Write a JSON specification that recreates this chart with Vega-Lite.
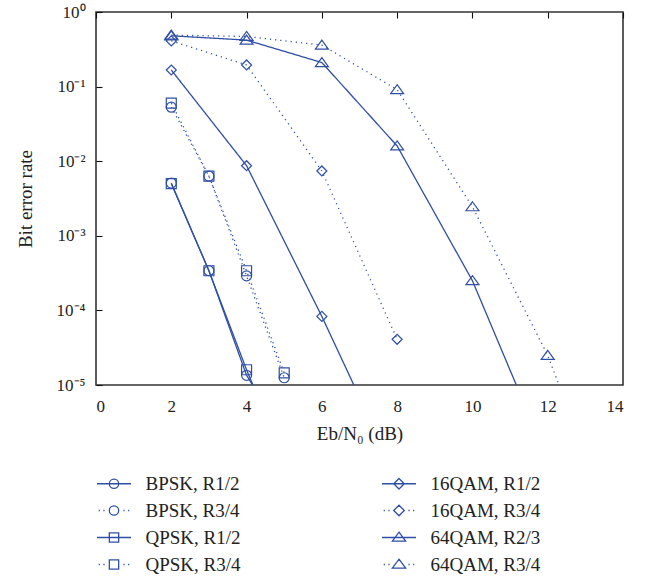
{
  "$schema": "https://vega.github.io/schema/vega-lite/v6.json",
  "width": 527,
  "height": 373,
  "autosize": {"type": "none"},
  "padding": {"left": 96, "top": 12, "right": 31, "bottom": 194},
  "background": "white",
  "config": {
    "view": {"stroke": "#333333", "strokeWidth": 1.6},
    "font": "Liberation Serif",
    "axis": {
      "domain": false,
      "ticks": false,
      "tickSize": 0,
      "grid": true,
      "gridColor": "#111111",
      "gridOpacity": 1,
      "gridWidth": 1.1,
      "gridDash": [6, 2000],
      "labelColor": "#222222",
      "titleColor": "#222222",
      "labelFont": "Liberation Serif",
      "titleFont": "Liberation Serif",
      "labelFontSize": 17,
      "titleFontSize": 19,
      "titleFontWeight": "normal"
    },
    "legend": {
      "orient": "none",
      "legendX": 8.5,
      "legendY": 462,
      "columns": 2,
      "padding": 0,
      "symbolSize": 289,
      "symbolStrokeWidth": 1.3,
      "labelFont": "Liberation Serif",
      "labelFontSize": 19,
      "labelColor": "#222222",
      "labelOffset": 22,
      "labelLimit": 300,
      "rowPadding": 7,
      "columnPadding": 137
    }
  },
  "data": {
    "values": [
      {"series": "BPSK, R1/2", "ebn0": 2, "ber": 0.0051},
      {"series": "BPSK, R1/2", "ebn0": 3, "ber": 0.00034},
      {"series": "BPSK, R1/2", "ebn0": 4, "ber": 0.0000135},
      {"series": "BPSK, R1/2", "ebn0": 5, "ber": 0.000002},
      {"series": "BPSK, R3/4", "ebn0": 2, "ber": 0.053},
      {"series": "BPSK, R3/4", "ebn0": 3, "ber": 0.0063},
      {"series": "BPSK, R3/4", "ebn0": 4, "ber": 0.00029},
      {"series": "BPSK, R3/4", "ebn0": 5, "ber": 0.0000125},
      {"series": "QPSK, R1/2", "ebn0": 2, "ber": 0.005},
      {"series": "QPSK, R1/2", "ebn0": 3, "ber": 0.00034},
      {"series": "QPSK, R1/2", "ebn0": 4, "ber": 0.000016},
      {"series": "QPSK, R1/2", "ebn0": 5, "ber": 0.000001},
      {"series": "QPSK, R3/4", "ebn0": 2, "ber": 0.06},
      {"series": "QPSK, R3/4", "ebn0": 3, "ber": 0.0063},
      {"series": "QPSK, R3/4", "ebn0": 4, "ber": 0.00034},
      {"series": "QPSK, R3/4", "ebn0": 5, "ber": 0.0000145},
      {"series": "16QAM, R1/2", "ebn0": 2, "ber": 0.167},
      {"series": "16QAM, R1/2", "ebn0": 4, "ber": 0.0087},
      {"series": "16QAM, R1/2", "ebn0": 6, "ber": 0.000083},
      {"series": "16QAM, R1/2", "ebn0": 8, "ber": 0.00000057},
      {"series": "16QAM, R3/4", "ebn0": 2, "ber": 0.41},
      {"series": "16QAM, R3/4", "ebn0": 4, "ber": 0.195},
      {"series": "16QAM, R3/4", "ebn0": 6, "ber": 0.0074},
      {"series": "16QAM, R3/4", "ebn0": 8, "ber": 0.000041},
      {"series": "64QAM, R2/3", "ebn0": 2, "ber": 0.48},
      {"series": "64QAM, R2/3", "ebn0": 4, "ber": 0.42},
      {"series": "64QAM, R2/3", "ebn0": 6, "ber": 0.21},
      {"series": "64QAM, R2/3", "ebn0": 8, "ber": 0.016},
      {"series": "64QAM, R2/3", "ebn0": 10, "ber": 0.00025},
      {"series": "64QAM, R2/3", "ebn0": 12, "ber": 0.000001},
      {"series": "64QAM, R3/4", "ebn0": 2, "ber": 0.49},
      {"series": "64QAM, R3/4", "ebn0": 4, "ber": 0.47},
      {"series": "64QAM, R3/4", "ebn0": 6, "ber": 0.36},
      {"series": "64QAM, R3/4", "ebn0": 8, "ber": 0.091},
      {"series": "64QAM, R3/4", "ebn0": 10, "ber": 0.00245},
      {"series": "64QAM, R3/4", "ebn0": 12, "ber": 0.000025},
      {"series": "64QAM, R3/4", "ebn0": 14, "ber": 0.000000054}
    ]
  },
  "resolve": {
    "axis": {"x": "independent", "y": "independent"},
    "scale": {"shape": "independent"},
    "legend": {"shape": "independent"}
  },
  "layer": [
    {
      "mark": {"type": "line", "clip": true, "color": "#2f4fa6", "strokeWidth": 1.3},
      "encoding": {
        "x": {
          "field": "ebn0", "type": "quantitative",
          "scale": {"domain": [0, 14], "nice": false, "zero": false},
          "axis": {
            "orient": "bottom",
            "values": [0, 2, 4, 6, 8, 10, 12, 14],
            "labelPadding": 13,
            "title": "Eb/N₀ (dB)",
            "titlePadding": 10
          }
        },
        "y": {
          "field": "ber", "type": "quantitative",
          "scale": {"type": "log", "domain": [0.00001, 1], "nice": false},
          "axis": {
            "orient": "left",
            "values": [0.00001, 0.0001, 0.001, 0.01, 0.1, 1],
            "labelPadding": 11,
            "labelExpr": "'10' + ['⁰','⁻¹','⁻²','⁻³','⁻⁴','⁻⁵'][-round(log(datum.value)/LN10)]",
            "title": "Bit error rate",
            "titlePadding": 21
          }
        },
        "strokeDash": {
          "field": "series", "type": "nominal",
          "scale": {
            "domain": ["BPSK, R1/2", "BPSK, R3/4", "QPSK, R1/2", "QPSK, R3/4", "16QAM, R1/2", "16QAM, R3/4", "64QAM, R2/3", "64QAM, R3/4"],
            "range": [[1, 0], [1.2, 4], [1, 0], [1.2, 4], [1, 0], [1.2, 4], [1, 0], [1.2, 4]]
          },
          "legend": null
        }
      }
    },
    {
      "mark": {"type": "point", "filled": false, "clip": true, "size": 100, "strokeWidth": 1.2, "color": "#2f4fa6", "opacity": 1},
      "encoding": {
        "x": {
          "field": "ebn0", "type": "quantitative",
          "axis": {"orient": "top", "values": [0, 2, 4, 6, 8, 10, 12, 14], "labels": false, "title": null}
        },
        "y": {
          "field": "ber", "type": "quantitative",
          "axis": {"orient": "right", "values": [0.00001, 0.0001, 0.001, 0.01, 0.1, 1], "labels": false, "title": null}
        },
        "shape": {
          "field": "series", "type": "nominal",
          "scale": {
            "domain": ["BPSK, R1/2", "BPSK, R3/4", "QPSK, R1/2", "QPSK, R3/4", "16QAM, R1/2", "16QAM, R3/4", "64QAM, R2/3", "64QAM, R3/4"],
            "range": ["circle", "circle", "square", "square", "diamond", "diamond", "M0,-1 L1.3,0.8 L-1.3,0.8 Z", "M0,-1 L1.3,0.8 L-1.3,0.8 Z"]
          },
          "legend": null
        }
      }
    },
    {
      "mark": {"type": "point", "filled": false, "clip": true, "size": 100, "strokeWidth": 1.3, "color": "#2f4fa6", "opacity": 0},
      "encoding": {
        "x": {"field": "ebn0", "type": "quantitative", "axis": null},
        "y": {
          "field": "ber", "type": "quantitative",
          "axis": {
            "orient": "left",
            "values": [0.00002, 0.00003, 0.00004, 0.00005, 0.00006, 0.00007, 0.00008, 0.00009,
                       0.0002, 0.0003, 0.0004, 0.0005, 0.0006, 0.0007, 0.0008, 0.0009,
                       0.002, 0.003, 0.004, 0.005, 0.006, 0.007, 0.008, 0.009,
                       0.02, 0.03, 0.04, 0.05, 0.06, 0.07, 0.08, 0.09,
                       0.2, 0.3, 0.4, 0.5, 0.6, 0.7, 0.8, 0.9],
            "gridDash": [3.5, 2000], "labels": false, "title": null
          }
        },
        "shape": {
          "field": "series", "type": "nominal",
          "scale": {
            "domain": ["BPSK, R1/2", "BPSK, R3/4", "QPSK, R1/2", "QPSK, R3/4", "16QAM, R1/2", "16QAM, R3/4", "64QAM, R2/3", "64QAM, R3/4"],
            "range": [
              "M-2,0 L2,0 M-0.55,0 A0.55,0.55 0 1,0 0.55,0 A0.55,0.55 0 1,0 -0.55,0 Z",
              "M-1.8,0 L-1.66,0 M-1.25,0 L-1.11,0 M1.11,0 L1.25,0 M1.66,0 L1.8,0 M-0.55,0 A0.55,0.55 0 1,0 0.55,0 A0.55,0.55 0 1,0 -0.55,0 Z",
              "M-2,0 L2,0 M-0.55,-0.55 L0.55,-0.55 L0.55,0.55 L-0.55,0.55 Z",
              "M-1.8,0 L-1.66,0 M-1.25,0 L-1.11,0 M1.11,0 L1.25,0 M1.66,0 L1.8,0 M-0.55,-0.55 L0.55,-0.55 L0.55,0.55 L-0.55,0.55 Z",
              "M-2,0 L2,0 M0,-0.62 L0.62,0 L0,0.62 L-0.62,0 Z",
              "M-1.8,0 L-1.66,0 M-1.25,0 L-1.11,0 M1.11,0 L1.25,0 M1.66,0 L1.8,0 M0,-0.62 L0.62,0 L0,0.62 L-0.62,0 Z",
              "M-2,0 L2,0 M0,-0.62 L0.78,0.42 L-0.78,0.42 Z",
              "M-1.8,0 L-1.66,0 M-1.25,0 L-1.11,0 M1.11,0 L1.25,0 M1.66,0 L1.8,0 M0,-0.62 L0.78,0.42 L-0.78,0.42 Z"
            ]
          },
          "legend": {"title": null, "symbolOpacity": 1}
        }
      }
    },
    {
      "mark": {"type": "point", "filled": false, "clip": true, "opacity": 0},
      "encoding": {
        "x": {"field": "ebn0", "type": "quantitative", "axis": null},
        "y": {
          "field": "ber", "type": "quantitative",
          "axis": {
            "orient": "right",
            "values": [0.00002, 0.00003, 0.00004, 0.00005, 0.00006, 0.00007, 0.00008, 0.00009,
                       0.0002, 0.0003, 0.0004, 0.0005, 0.0006, 0.0007, 0.0008, 0.0009,
                       0.002, 0.003, 0.004, 0.005, 0.006, 0.007, 0.008, 0.009,
                       0.02, 0.03, 0.04, 0.05, 0.06, 0.07, 0.08, 0.09,
                       0.2, 0.3, 0.4, 0.5, 0.6, 0.7, 0.8, 0.9],
            "gridDash": [3.5, 2000], "labels": false, "title": null
          }
        }
      }
    }
  ]
}
